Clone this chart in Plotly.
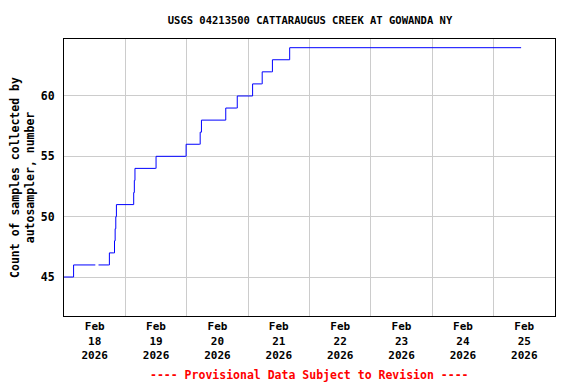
import plotly.graph_objects as go

times = [
    "2026-02-18 00:00", "2026-02-18 03:30", "2026-02-18 03:45", "2026-02-18 12:15",
    None,
    "2026-02-18 13:30", "2026-02-18 17:30", "2026-02-18 17:45", "2026-02-18 19:30",
    "2026-02-18 19:45", "2026-02-18 20:00", "2026-02-18 20:15", "2026-02-18 20:30",
    "2026-02-19 03:00", "2026-02-19 03:15", "2026-02-19 03:30", "2026-02-19 03:45",
    "2026-02-19 11:45", "2026-02-19 12:00", "2026-02-19 23:30", "2026-02-19 23:45",
    "2026-02-20 05:00", "2026-02-20 05:15", "2026-02-20 05:45", "2026-02-20 15:00",
    "2026-02-20 15:15", "2026-02-20 19:30", "2026-02-20 19:45", "2026-02-21 01:30",
    "2026-02-21 01:45", "2026-02-21 05:15", "2026-02-21 05:30", "2026-02-21 09:15",
    "2026-02-21 09:30", "2026-02-21 16:00", "2026-02-21 16:15", "2026-02-25 10:45",
]
counts = [
    45, 45, 46, 46,
    None,
    46, 46, 47, 47,
    48, 49, 50, 51,
    51, 52, 53, 54,
    54, 55, 55, 56,
    56, 57, 58, 58,
    59, 59, 60, 60,
    61, 61, 62, 62,
    63, 63, 64, 64,
]

tick_days = ["18", "19", "20", "21", "22", "23", "24", "25"]
tick_vals = [f"2026-02-{d} 12:00" for d in tick_days]
tick_text = [f"Feb<br>{d}<br>2026" for d in tick_days]
grid_vals = [f"2026-02-{d} 00:00" for d in ["19", "20", "21", "22", "23", "24", "25"]]

title = "USGS 04213500 CATTARAUGUS CREEK AT GOWANDA NY"
ylabel = "Count of samples collected by<br>autosampler, number"
note = "---- Provisional Data Subject to Revision ----"

font = "DejaVu Sans Mono"

# page body has an 8px default margin, so the figure is sized to fill the rest
W, H = 568, 376

fig = go.Figure()
fig.add_trace(go.Scatter(
    x=times, y=counts, mode="lines", connectgaps=False,
    line=dict(color="#0000ff", width=1, shape="hv"),
    showlegend=False,
))

fig.update_layout(
    width=W, height=H,
    margin=dict(l=56, r=21, t=31, b=68),
    paper_bgcolor="white", plot_bgcolor="white",
    font=dict(family=font, size=11, color="black"),
    title=dict(text=f"<b>{title}</b>", x=(310 - 8) / W, xanchor="center", y=1 - 12 / H, yanchor="middle",
               font=dict(family=font, size=10.5, color="black")),
    xaxis=dict(
        type="date", automargin=False,
        range=["2026-02-18 00:00", "2026-02-26 00:00"],
        tickvals=tick_vals, ticktext=[f"<b>{t}</b>" for t in tick_text],
        showgrid=False, ticks="", tickangle=0,
        tickfont=dict(family=font, size=11, color="black"),
        showline=True, linecolor="black", linewidth=1, mirror=True,
        minor=dict(tickvals=grid_vals, showgrid=True, gridcolor="#cccccc", gridwidth=1, ticks=""),
        zeroline=False,
    ),
    yaxis=dict(
        automargin=False,
        range=[41.77, 64.72],
        tickvals=[45, 50, 55, 60],
        ticktext=["<b>45</b>", "<b>50</b>", "<b>55</b>", "<b>60</b>"],
        showgrid=True, gridcolor="#cccccc", gridwidth=1,
        ticks="outside", ticklen=6, tickcolor="white",
        tickfont=dict(family=font, size=11.5, color="black"),
        showline=True, linecolor="black", linewidth=1, mirror=True,
        zeroline=False,
        title=dict(text=f"<b>{ylabel}</b>", font=dict(family=font, size=11.5, color="black"), standoff=10),
    ),
)

fig.add_annotation(
    text=f"<b>{note}</b>", xref="paper", yref="paper", x=0.5, y=-59 / 277,
    xanchor="center", yanchor="middle", showarrow=False,
    font=dict(family=font, size=11.5, color="red"),
)

fig.write_html("out.html")
